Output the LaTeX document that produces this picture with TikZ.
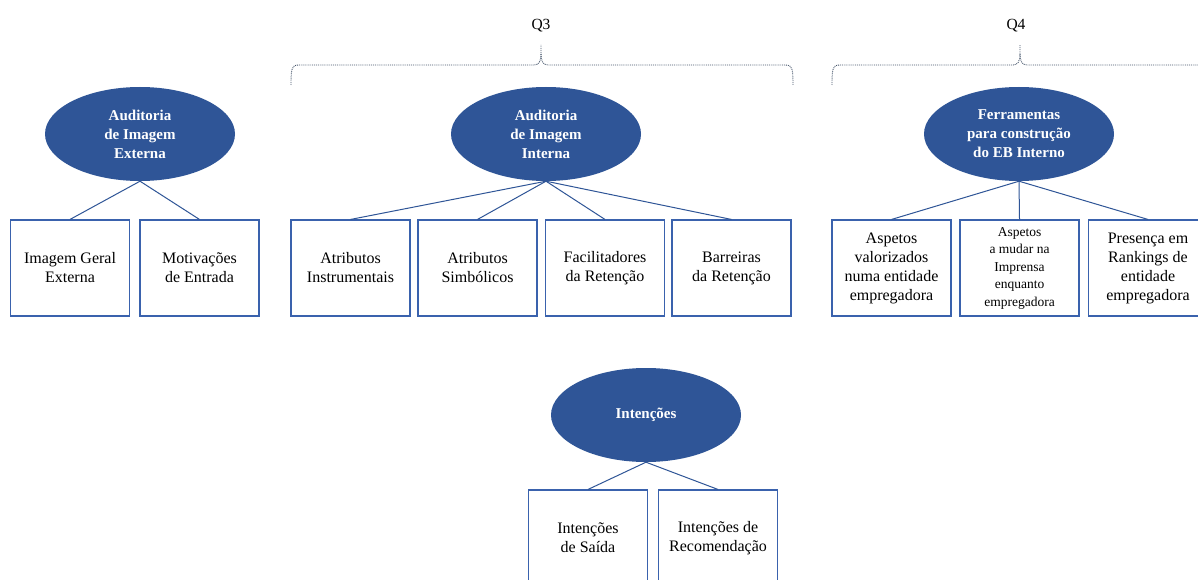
\documentclass[tikz,border=0pt]{standalone}
\usepackage{fontspec}
\setmainfont{Liberation Serif}
\usetikzlibrary{shapes.geometric}
\definecolor{ellblue}{HTML}{2F5597}
\definecolor{boxblue}{HTML}{3A62AD}
\definecolor{bracegray}{HTML}{44546A}
\begin{document}
\begin{tikzpicture}[x=1pt,y=-1pt,
 ell/.style={ellipse, fill=ellblue, draw=none, minimum width=190pt, minimum height=94pt, inner sep=0pt, text=white, font=\fontsize{15}{19}\selectfont\bfseries, align=center},
 bx/.style={rectangle, draw=boxblue, line width=1.1pt, minimum width=119pt, minimum height=96pt, inner sep=0pt, align=center, font=\fontsize{16}{19}\selectfont},
 smalltext/.style={font=\fontsize{13.5}{17.5}\selectfont},
 link/.style={draw=ellblue, line width=1pt},
 brace/.style={draw=bracegray, line width=0.9pt, densely dotted},
 qlabel/.style={font=\fontsize{15.5}{19}\selectfont, inner sep=0pt}
]
\clip (0,0) rectangle (1198,580);
\fill[white] (0,0) rectangle (1198,580);

% group 1
\node[ell] (e1) at (140,134) {Auditoria\\de Imagem\\Externa};
\node[bx] (b11) at (70,268) {Imagem Geral\\Externa};
\node[bx] (b12) at (199.5,268) {Motivações\\de Entrada};
\draw[link] (e1.south) -- (b11.north);
\draw[link] (e1.south) -- (b12.north);

% group 2
\node[qlabel] (q3) at (541,26) {Q3};
\draw[brace] (291,85) .. controls (291,68) and (292,65) .. (298,65) -- (534,65) .. controls (539,65) and (541,61) .. (541,54) -- (541,45);
\draw[brace] (541,54) .. controls (541,61) and (543,65) .. (548,65) -- (786,65) .. controls (792,65) and (793,68) .. (793,85);
\node[ell] (e2) at (546,134) {Auditoria\\de Imagem\\Interna};
\node[bx] (b21) at (350.5,268) {Atributos\\Instrumentais};
\node[bx] (b22) at (477.5,268) {Atributos\\Simbólicos};
\node[bx] (b23) at (605,268) {Facilitadores\\da Retenção};
\node[bx] (b24) at (731.5,268) {Barreiras\\da Retenção};
\foreach \b in {b21,b22,b23,b24} \draw[link] (e2.south) -- (\b.north);

% group 3
\node[qlabel] (q4) at (1016,26) {Q4};
\draw[brace] (832,85) .. controls (832,68) and (833,65) .. (839,65) -- (1013,65) .. controls (1018,65) and (1020,61) .. (1020,54) -- (1020,45);
\draw[brace] (1020,54) .. controls (1020,61) and (1022,65) .. (1027,65) -- (1205,65);
\node[ell] (e3) at (1019,134) {Ferramentas\\para construção\\do EB Interno};
\node[bx] (b31) at (891.5,268) {Aspetos\\valorizados\\numa entidade\\empregadora};
\node[bx, smalltext] (b32) at (1019.5,268) {Aspetos\\a mudar na\\Imprensa\\enquanto\\empregadora};
\node[bx] (b33) at (1148,268) {Presença em\\Rankings de\\entidade\\empregadora};
\foreach \b in {b31,b32,b33} \draw[link] (e3.south) -- (\b.north);

% group 4
\node[ell] (e4) at (646,415) {Intenções};
\node[bx] (b41) at (588,538) {Intenções\\de Saída};
\node[bx] (b42) at (718,538) {Intenções de\\Recomendação};
\draw[link] (e4.south) -- (b41.north);
\draw[link] (e4.south) -- (b42.north);
\end{tikzpicture}
\end{document}
